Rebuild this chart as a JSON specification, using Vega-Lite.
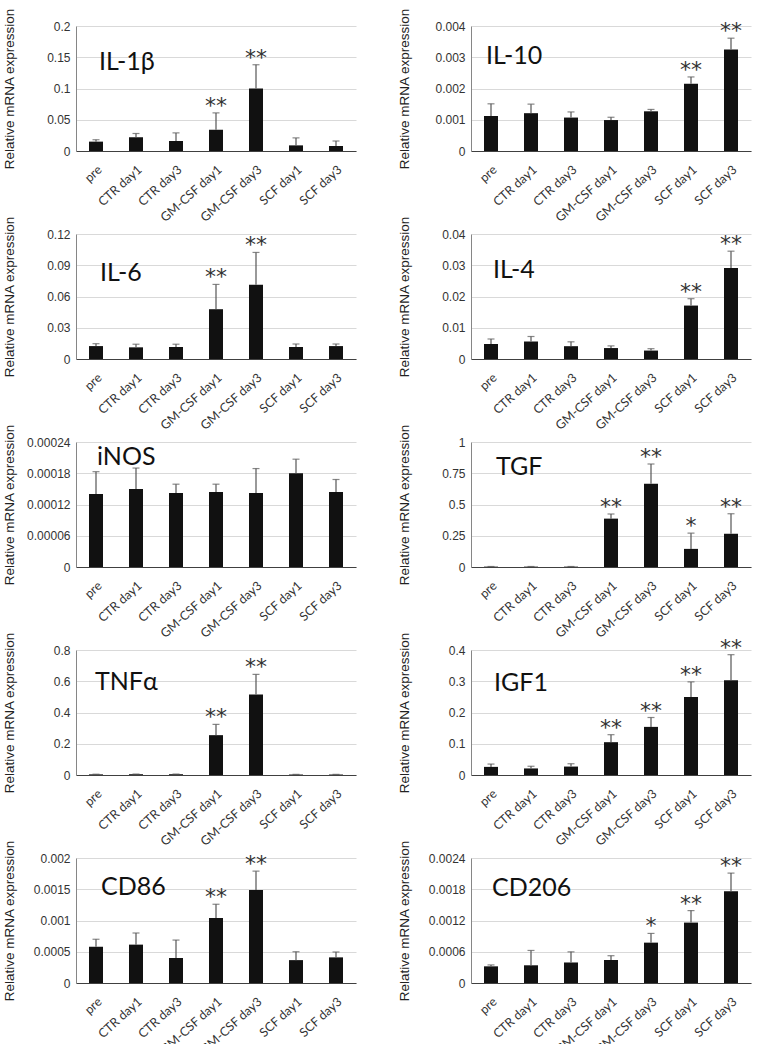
{
"$schema": "https://vega.github.io/schema/vega-lite/v6.json",
"padding": {"left": 2, "top": 7, "right": 5, "bottom": 0},
"background": "white",
"bounds": "flush",
"config": {
  "view": {"stroke": null},
  "axisY": {"grid": true, "gridColor": "#d9d9d9", "domainColor": "#868686", "ticks": false, "labelFont": "Liberation Sans", "labelFontSize": 12, "labelColor": "#333", "labelPadding": 6, "titleFont": "Liberation Sans", "titleFontSize": 13.5, "titleFontWeight": "normal", "titleColor": "#222", "titleX": -60, "titleBaseline": "bottom"},
  "axisX": {"labelAngle": -42, "labelFont": "Lato", "labelFontSize": 12.5, "labelColor": "#333", "ticks": false, "domainColor": "#404040", "grid": false, "labelPadding": 12}
},
"data": {"values": [
{"gene":"IL-1β","group":"pre","val":0.015,"err":0.018,"sig":""},
{"gene":"IL-1β","group":"CTR day1","val":0.022,"err":0.028,"sig":""},
{"gene":"IL-1β","group":"CTR day3","val":0.016,"err":0.029,"sig":""},
{"gene":"IL-1β","group":"GM-CSF day1","val":0.034,"err":0.061,"sig":"**"},
{"gene":"IL-1β","group":"GM-CSF day3","val":0.1,"err":0.138,"sig":"**"},
{"gene":"IL-1β","group":"SCF day1","val":0.009,"err":0.021,"sig":""},
{"gene":"IL-1β","group":"SCF day3","val":0.008,"err":0.016,"sig":""},
{"gene":"IL-10","group":"pre","val":0.00112,"err":0.00151,"sig":""},
{"gene":"IL-10","group":"CTR day1","val":0.00121,"err":0.0015,"sig":""},
{"gene":"IL-10","group":"CTR day3","val":0.00107,"err":0.00125,"sig":""},
{"gene":"IL-10","group":"GM-CSF day1","val":0.00099,"err":0.00108,"sig":""},
{"gene":"IL-10","group":"GM-CSF day3","val":0.00127,"err":0.00133,"sig":""},
{"gene":"IL-10","group":"SCF day1","val":0.00215,"err":0.00237,"sig":"**"},
{"gene":"IL-10","group":"SCF day3","val":0.00325,"err":0.00361,"sig":"**"},
{"gene":"IL-6","group":"pre","val":0.0124,"err":0.0147,"sig":""},
{"gene":"IL-6","group":"CTR day1","val":0.0112,"err":0.0142,"sig":""},
{"gene":"IL-6","group":"CTR day3","val":0.0115,"err":0.0142,"sig":""},
{"gene":"IL-6","group":"GM-CSF day1","val":0.0478,"err":0.0716,"sig":"**"},
{"gene":"IL-6","group":"GM-CSF day3","val":0.0714,"err":0.1023,"sig":"**"},
{"gene":"IL-6","group":"SCF day1","val":0.0115,"err":0.0144,"sig":""},
{"gene":"IL-6","group":"SCF day3","val":0.0124,"err":0.0144,"sig":""},
{"gene":"IL-4","group":"pre","val":0.0048,"err":0.0064,"sig":""},
{"gene":"IL-4","group":"CTR day1","val":0.0056,"err":0.0072,"sig":""},
{"gene":"IL-4","group":"CTR day3","val":0.0041,"err":0.0055,"sig":""},
{"gene":"IL-4","group":"GM-CSF day1","val":0.0035,"err":0.0042,"sig":""},
{"gene":"IL-4","group":"GM-CSF day3","val":0.0027,"err":0.0033,"sig":""},
{"gene":"IL-4","group":"SCF day1","val":0.0171,"err":0.0193,"sig":"**"},
{"gene":"IL-4","group":"SCF day3","val":0.0291,"err":0.0345,"sig":"**"},
{"gene":"iNOS","group":"pre","val":0.00014,"err":0.000183,"sig":""},
{"gene":"iNOS","group":"CTR day1","val":0.00015,"err":0.00019,"sig":""},
{"gene":"iNOS","group":"CTR day3","val":0.000142,"err":0.000159,"sig":""},
{"gene":"iNOS","group":"GM-CSF day1","val":0.000144,"err":0.000159,"sig":""},
{"gene":"iNOS","group":"GM-CSF day3","val":0.000142,"err":0.000189,"sig":""},
{"gene":"iNOS","group":"SCF day1","val":0.00018,"err":0.000207,"sig":""},
{"gene":"iNOS","group":"SCF day3","val":0.000144,"err":0.000168,"sig":""},
{"gene":"TGF","group":"pre","val":0.003,"err":0.004,"sig":""},
{"gene":"TGF","group":"CTR day1","val":0.003,"err":0.004,"sig":""},
{"gene":"TGF","group":"CTR day3","val":0.003,"err":0.004,"sig":""},
{"gene":"TGF","group":"GM-CSF day1","val":0.387,"err":0.424,"sig":"**"},
{"gene":"TGF","group":"GM-CSF day3","val":0.666,"err":0.824,"sig":"**"},
{"gene":"TGF","group":"SCF day1","val":0.145,"err":0.271,"sig":"*"},
{"gene":"TGF","group":"SCF day3","val":0.266,"err":0.426,"sig":"**"},
{"gene":"TNFα","group":"pre","val":0.004,"err":0.005,"sig":""},
{"gene":"TNFα","group":"CTR day1","val":0.005,"err":0.006,"sig":""},
{"gene":"TNFα","group":"CTR day3","val":0.005,"err":0.006,"sig":""},
{"gene":"TNFα","group":"GM-CSF day1","val":0.255,"err":0.324,"sig":"**"},
{"gene":"TNFα","group":"GM-CSF day3","val":0.515,"err":0.644,"sig":"**"},
{"gene":"TNFα","group":"SCF day1","val":0.003,"err":0.004,"sig":""},
{"gene":"TNFα","group":"SCF day3","val":0.003,"err":0.004,"sig":""},
{"gene":"IGF1","group":"pre","val":0.026,"err":0.035,"sig":""},
{"gene":"IGF1","group":"CTR day1","val":0.021,"err":0.028,"sig":""},
{"gene":"IGF1","group":"CTR day3","val":0.027,"err":0.036,"sig":""},
{"gene":"IGF1","group":"GM-CSF day1","val":0.105,"err":0.129,"sig":"**"},
{"gene":"IGF1","group":"GM-CSF day3","val":0.154,"err":0.184,"sig":"**"},
{"gene":"IGF1","group":"SCF day1","val":0.25,"err":0.298,"sig":"**"},
{"gene":"IGF1","group":"SCF day3","val":0.303,"err":0.385,"sig":"**"},
{"gene":"CD86","group":"pre","val":0.00058,"err":0.0007,"sig":""},
{"gene":"CD86","group":"CTR day1","val":0.000614,"err":0.0008,"sig":""},
{"gene":"CD86","group":"CTR day3","val":0.0004,"err":0.000687,"sig":""},
{"gene":"CD86","group":"GM-CSF day1","val":0.00104,"err":0.00126,"sig":"**"},
{"gene":"CD86","group":"GM-CSF day3","val":0.00149,"err":0.00179,"sig":"**"},
{"gene":"CD86","group":"SCF day1","val":0.000366,"err":0.0005,"sig":""},
{"gene":"CD86","group":"SCF day3","val":0.00041,"err":0.000496,"sig":""},
{"gene":"CD206","group":"pre","val":0.00032,"err":0.000347,"sig":""},
{"gene":"CD206","group":"CTR day1","val":0.00034,"err":0.000625,"sig":""},
{"gene":"CD206","group":"CTR day3","val":0.000394,"err":0.000598,"sig":""},
{"gene":"CD206","group":"GM-CSF day1","val":0.000442,"err":0.000524,"sig":""},
{"gene":"CD206","group":"GM-CSF day3","val":0.000775,"err":0.000952,"sig":"*"},
{"gene":"CD206","group":"SCF day1","val":0.00116,"err":0.00139,"sig":"**"},
{"gene":"CD206","group":"SCF day3","val":0.00176,"err":0.00211,"sig":"**"}
]},
"columns": 2,
"spacing": {"row": 83, "column": 115},
"concat": [
{"width": 280, "height": 125,
 "transform": [{"filter": "datum.gene === 'IL-1β'"}],
 "resolve": {"axis": {"y": "independent"}},
 "encoding": {"x": {"field": "group", "type": "nominal", "sort": ["pre","CTR day1","CTR day3","GM-CSF day1","GM-CSF day3","SCF day1","SCF day3"], "scale": {"paddingInner": 0.65, "paddingOuter": 0.325}, "axis": {"title": null}},
   "y": {"field": "val", "type": "quantitative", "scale": {"domain": [0, 0.2]}, "axis": null}},
 "layer": [
  {"mark": {"type": "bar", "color": "#111"}, "encoding": {"y": {"field": "val", "type": "quantitative", "scale": {"domain": [0, 0.2]}, "axis": {"values": [0,0.05,0.1,0.15,0.2], "format": ".5~f", "title": "Relative mRNA expression"}}}},
  {"mark": {"type": "rule", "color": "#555", "strokeWidth": 1.2}, "encoding": {"y2": {"field": "err"}}},
  {"mark": {"type": "tick", "color": "#555", "thickness": 1.2, "size": 7, "orient": "horizontal"}, "encoding": {"y": {"field": "err", "type": "quantitative", "scale": {"domain": [0, 0.2]}, "axis": null}}},
  {"transform": [{"filter": "datum.sig !== ''"}], "mark": {"type": "text", "font": "DejaVu Sans", "fontSize": 22, "baseline": "alphabetic", "color": "#333"}, "encoding": {"y": {"field": "err", "type": "quantitative", "scale": {"domain": [0, 0.2]}, "axis": null}, "text": {"field": "sig"}}},
  {"transform": [{"filter": "datum.group === 'pre'"}], "mark": {"type": "text", "font": "Lato", "fontSize": 25, "align": "left", "baseline": "middle", "dx": 3, "color": "#111"}, "encoding": {"y": {"datum": 0.142, "type": "quantitative", "scale": {"domain": [0, 0.2]}, "axis": null}, "text": {"field": "gene"}}}
 ]},
{"width": 280, "height": 125,
 "transform": [{"filter": "datum.gene === 'IL-10'"}],
 "resolve": {"axis": {"y": "independent"}},
 "encoding": {"x": {"field": "group", "type": "nominal", "sort": ["pre","CTR day1","CTR day3","GM-CSF day1","GM-CSF day3","SCF day1","SCF day3"], "scale": {"paddingInner": 0.65, "paddingOuter": 0.325}, "axis": {"title": null}},
   "y": {"field": "val", "type": "quantitative", "scale": {"domain": [0, 0.004]}, "axis": null}},
 "layer": [
  {"mark": {"type": "bar", "color": "#111"}, "encoding": {"y": {"field": "val", "type": "quantitative", "scale": {"domain": [0, 0.004]}, "axis": {"values": [0,0.001,0.002,0.003,0.004], "format": ".5~f", "title": "Relative mRNA expression"}}}},
  {"mark": {"type": "rule", "color": "#555", "strokeWidth": 1.2}, "encoding": {"y2": {"field": "err"}}},
  {"mark": {"type": "tick", "color": "#555", "thickness": 1.2, "size": 7, "orient": "horizontal"}, "encoding": {"y": {"field": "err", "type": "quantitative", "scale": {"domain": [0, 0.004]}, "axis": null}}},
  {"transform": [{"filter": "datum.sig !== ''"}], "mark": {"type": "text", "font": "DejaVu Sans", "fontSize": 22, "baseline": "alphabetic", "color": "#333"}, "encoding": {"y": {"field": "err", "type": "quantitative", "scale": {"domain": [0, 0.004]}, "axis": null}, "text": {"field": "sig"}}},
  {"transform": [{"filter": "datum.group === 'pre'"}], "mark": {"type": "text", "font": "Lato", "fontSize": 25, "align": "left", "baseline": "middle", "dx": -5, "color": "#111"}, "encoding": {"y": {"datum": 0.00304, "type": "quantitative", "scale": {"domain": [0, 0.004]}, "axis": null}, "text": {"field": "gene"}}}
 ]},
{"width": 280, "height": 125,
 "transform": [{"filter": "datum.gene === 'IL-6'"}],
 "resolve": {"axis": {"y": "independent"}},
 "encoding": {"x": {"field": "group", "type": "nominal", "sort": ["pre","CTR day1","CTR day3","GM-CSF day1","GM-CSF day3","SCF day1","SCF day3"], "scale": {"paddingInner": 0.65, "paddingOuter": 0.325}, "axis": {"title": null}},
   "y": {"field": "val", "type": "quantitative", "scale": {"domain": [0, 0.12]}, "axis": null}},
 "layer": [
  {"mark": {"type": "bar", "color": "#111"}, "encoding": {"y": {"field": "val", "type": "quantitative", "scale": {"domain": [0, 0.12]}, "axis": {"values": [0,0.03,0.06,0.09,0.12], "format": ".5~f", "title": "Relative mRNA expression"}}}},
  {"mark": {"type": "rule", "color": "#555", "strokeWidth": 1.2}, "encoding": {"y2": {"field": "err"}}},
  {"mark": {"type": "tick", "color": "#555", "thickness": 1.2, "size": 7, "orient": "horizontal"}, "encoding": {"y": {"field": "err", "type": "quantitative", "scale": {"domain": [0, 0.12]}, "axis": null}}},
  {"transform": [{"filter": "datum.sig !== ''"}], "mark": {"type": "text", "font": "DejaVu Sans", "fontSize": 22, "baseline": "alphabetic", "color": "#333"}, "encoding": {"y": {"field": "err", "type": "quantitative", "scale": {"domain": [0, 0.12]}, "axis": null}, "text": {"field": "sig"}}},
  {"transform": [{"filter": "datum.group === 'pre'"}], "mark": {"type": "text", "font": "Lato", "fontSize": 25, "align": "left", "baseline": "middle", "dx": 4, "color": "#111"}, "encoding": {"y": {"datum": 0.083, "type": "quantitative", "scale": {"domain": [0, 0.12]}, "axis": null}, "text": {"field": "gene"}}}
 ]},
{"width": 280, "height": 125,
 "transform": [{"filter": "datum.gene === 'IL-4'"}],
 "resolve": {"axis": {"y": "independent"}},
 "encoding": {"x": {"field": "group", "type": "nominal", "sort": ["pre","CTR day1","CTR day3","GM-CSF day1","GM-CSF day3","SCF day1","SCF day3"], "scale": {"paddingInner": 0.65, "paddingOuter": 0.325}, "axis": {"title": null}},
   "y": {"field": "val", "type": "quantitative", "scale": {"domain": [0, 0.04]}, "axis": null}},
 "layer": [
  {"mark": {"type": "bar", "color": "#111"}, "encoding": {"y": {"field": "val", "type": "quantitative", "scale": {"domain": [0, 0.04]}, "axis": {"values": [0,0.01,0.02,0.03,0.04], "format": ".5~f", "title": "Relative mRNA expression"}}}},
  {"mark": {"type": "rule", "color": "#555", "strokeWidth": 1.2}, "encoding": {"y2": {"field": "err"}}},
  {"mark": {"type": "tick", "color": "#555", "thickness": 1.2, "size": 7, "orient": "horizontal"}, "encoding": {"y": {"field": "err", "type": "quantitative", "scale": {"domain": [0, 0.04]}, "axis": null}}},
  {"transform": [{"filter": "datum.sig !== ''"}], "mark": {"type": "text", "font": "DejaVu Sans", "fontSize": 22, "baseline": "alphabetic", "color": "#333"}, "encoding": {"y": {"field": "err", "type": "quantitative", "scale": {"domain": [0, 0.04]}, "axis": null}, "text": {"field": "sig"}}},
  {"transform": [{"filter": "datum.group === 'pre'"}], "mark": {"type": "text", "font": "Lato", "fontSize": 25, "align": "left", "baseline": "middle", "dx": 2, "color": "#111"}, "encoding": {"y": {"datum": 0.0284, "type": "quantitative", "scale": {"domain": [0, 0.04]}, "axis": null}, "text": {"field": "gene"}}}
 ]},
{"width": 280, "height": 125,
 "transform": [{"filter": "datum.gene === 'iNOS'"}],
 "resolve": {"axis": {"y": "independent"}},
 "encoding": {"x": {"field": "group", "type": "nominal", "sort": ["pre","CTR day1","CTR day3","GM-CSF day1","GM-CSF day3","SCF day1","SCF day3"], "scale": {"paddingInner": 0.65, "paddingOuter": 0.325}, "axis": {"title": null}},
   "y": {"field": "val", "type": "quantitative", "scale": {"domain": [0, 0.00024]}, "axis": null}},
 "layer": [
  {"mark": {"type": "bar", "color": "#111"}, "encoding": {"y": {"field": "val", "type": "quantitative", "scale": {"domain": [0, 0.00024]}, "axis": {"values": [0,0.00006,0.00012,0.00018,0.00024], "format": ".5~f", "title": "Relative mRNA expression"}}}},
  {"mark": {"type": "rule", "color": "#555", "strokeWidth": 1.2}, "encoding": {"y2": {"field": "err"}}},
  {"mark": {"type": "tick", "color": "#555", "thickness": 1.2, "size": 7, "orient": "horizontal"}, "encoding": {"y": {"field": "err", "type": "quantitative", "scale": {"domain": [0, 0.00024]}, "axis": null}}},
  {"transform": [{"filter": "datum.group === 'pre'"}], "mark": {"type": "text", "font": "Lato", "fontSize": 25, "align": "left", "baseline": "middle", "dx": 1, "color": "#111"}, "encoding": {"y": {"datum": 0.000212, "type": "quantitative", "scale": {"domain": [0, 0.00024]}, "axis": null}, "text": {"field": "gene"}}}
 ]},
{"width": 280, "height": 125,
 "transform": [{"filter": "datum.gene === 'TGF'"}],
 "resolve": {"axis": {"y": "independent"}},
 "encoding": {"x": {"field": "group", "type": "nominal", "sort": ["pre","CTR day1","CTR day3","GM-CSF day1","GM-CSF day3","SCF day1","SCF day3"], "scale": {"paddingInner": 0.65, "paddingOuter": 0.325}, "axis": {"title": null}},
   "y": {"field": "val", "type": "quantitative", "scale": {"domain": [0, 1]}, "axis": null}},
 "layer": [
  {"mark": {"type": "bar", "color": "#111"}, "encoding": {"y": {"field": "val", "type": "quantitative", "scale": {"domain": [0, 1]}, "axis": {"values": [0,0.25,0.5,0.75,1], "format": ".5~f", "title": "Relative mRNA expression"}}}},
  {"mark": {"type": "rule", "color": "#555", "strokeWidth": 1.2}, "encoding": {"y2": {"field": "err"}}},
  {"mark": {"type": "tick", "color": "#555", "thickness": 1.2, "size": 7, "orient": "horizontal"}, "encoding": {"y": {"field": "err", "type": "quantitative", "scale": {"domain": [0, 1]}, "axis": null}}},
  {"transform": [{"filter": "datum.sig !== ''"}], "mark": {"type": "text", "font": "DejaVu Sans", "fontSize": 22, "baseline": "alphabetic", "color": "#333"}, "encoding": {"y": {"field": "err", "type": "quantitative", "scale": {"domain": [0, 1]}, "axis": null}, "text": {"field": "sig"}}},
  {"transform": [{"filter": "datum.group === 'pre'"}], "mark": {"type": "text", "font": "Lato", "fontSize": 25, "align": "left", "baseline": "middle", "dx": 5, "color": "#111"}, "encoding": {"y": {"datum": 0.803, "type": "quantitative", "scale": {"domain": [0, 1]}, "axis": null}, "text": {"field": "gene"}}}
 ]},
{"width": 280, "height": 125,
 "transform": [{"filter": "datum.gene === 'TNFα'"}],
 "resolve": {"axis": {"y": "independent"}},
 "encoding": {"x": {"field": "group", "type": "nominal", "sort": ["pre","CTR day1","CTR day3","GM-CSF day1","GM-CSF day3","SCF day1","SCF day3"], "scale": {"paddingInner": 0.65, "paddingOuter": 0.325}, "axis": {"title": null}},
   "y": {"field": "val", "type": "quantitative", "scale": {"domain": [0, 0.8]}, "axis": null}},
 "layer": [
  {"mark": {"type": "bar", "color": "#111"}, "encoding": {"y": {"field": "val", "type": "quantitative", "scale": {"domain": [0, 0.8]}, "axis": {"values": [0,0.2,0.4,0.6,0.8], "format": ".5~f", "title": "Relative mRNA expression"}}}},
  {"mark": {"type": "rule", "color": "#555", "strokeWidth": 1.2}, "encoding": {"y2": {"field": "err"}}},
  {"mark": {"type": "tick", "color": "#555", "thickness": 1.2, "size": 7, "orient": "horizontal"}, "encoding": {"y": {"field": "err", "type": "quantitative", "scale": {"domain": [0, 0.8]}, "axis": null}}},
  {"transform": [{"filter": "datum.sig !== ''"}], "mark": {"type": "text", "font": "DejaVu Sans", "fontSize": 22, "baseline": "alphabetic", "color": "#333"}, "encoding": {"y": {"field": "err", "type": "quantitative", "scale": {"domain": [0, 0.8]}, "axis": null}, "text": {"field": "sig"}}},
  {"transform": [{"filter": "datum.group === 'pre'"}], "mark": {"type": "text", "font": "Lato", "fontSize": 25, "align": "left", "baseline": "middle", "dx": -1, "color": "#111"}, "encoding": {"y": {"datum": 0.598, "type": "quantitative", "scale": {"domain": [0, 0.8]}, "axis": null}, "text": {"field": "gene"}}}
 ]},
{"width": 280, "height": 125,
 "transform": [{"filter": "datum.gene === 'IGF1'"}],
 "resolve": {"axis": {"y": "independent"}},
 "encoding": {"x": {"field": "group", "type": "nominal", "sort": ["pre","CTR day1","CTR day3","GM-CSF day1","GM-CSF day3","SCF day1","SCF day3"], "scale": {"paddingInner": 0.65, "paddingOuter": 0.325}, "axis": {"title": null}},
   "y": {"field": "val", "type": "quantitative", "scale": {"domain": [0, 0.4]}, "axis": null}},
 "layer": [
  {"mark": {"type": "bar", "color": "#111"}, "encoding": {"y": {"field": "val", "type": "quantitative", "scale": {"domain": [0, 0.4]}, "axis": {"values": [0,0.1,0.2,0.3,0.4], "format": ".5~f", "title": "Relative mRNA expression"}}}},
  {"mark": {"type": "rule", "color": "#555", "strokeWidth": 1.2}, "encoding": {"y2": {"field": "err"}}},
  {"mark": {"type": "tick", "color": "#555", "thickness": 1.2, "size": 7, "orient": "horizontal"}, "encoding": {"y": {"field": "err", "type": "quantitative", "scale": {"domain": [0, 0.4]}, "axis": null}}},
  {"transform": [{"filter": "datum.sig !== ''"}], "mark": {"type": "text", "font": "DejaVu Sans", "fontSize": 22, "baseline": "alphabetic", "color": "#333"}, "encoding": {"y": {"field": "err", "type": "quantitative", "scale": {"domain": [0, 0.4]}, "axis": null}, "text": {"field": "sig"}}},
  {"transform": [{"filter": "datum.group === 'pre'"}], "mark": {"type": "text", "font": "Lato", "fontSize": 25, "align": "left", "baseline": "middle", "dx": 3, "color": "#111"}, "encoding": {"y": {"datum": 0.293, "type": "quantitative", "scale": {"domain": [0, 0.4]}, "axis": null}, "text": {"field": "gene"}}}
 ]},
{"width": 280, "height": 125,
 "transform": [{"filter": "datum.gene === 'CD86'"}],
 "resolve": {"axis": {"y": "independent"}},
 "encoding": {"x": {"field": "group", "type": "nominal", "sort": ["pre","CTR day1","CTR day3","GM-CSF day1","GM-CSF day3","SCF day1","SCF day3"], "scale": {"paddingInner": 0.65, "paddingOuter": 0.325}, "axis": {"title": null}},
   "y": {"field": "val", "type": "quantitative", "scale": {"domain": [0, 0.002]}, "axis": null}},
 "layer": [
  {"mark": {"type": "bar", "color": "#111"}, "encoding": {"y": {"field": "val", "type": "quantitative", "scale": {"domain": [0, 0.002]}, "axis": {"values": [0,0.0005,0.001,0.0015,0.002], "format": ".5~f", "title": "Relative mRNA expression"}}}},
  {"mark": {"type": "rule", "color": "#555", "strokeWidth": 1.2}, "encoding": {"y2": {"field": "err"}}},
  {"mark": {"type": "tick", "color": "#555", "thickness": 1.2, "size": 7, "orient": "horizontal"}, "encoding": {"y": {"field": "err", "type": "quantitative", "scale": {"domain": [0, 0.002]}, "axis": null}}},
  {"transform": [{"filter": "datum.sig !== ''"}], "mark": {"type": "text", "font": "DejaVu Sans", "fontSize": 22, "baseline": "alphabetic", "color": "#333"}, "encoding": {"y": {"field": "err", "type": "quantitative", "scale": {"domain": [0, 0.002]}, "axis": null}, "text": {"field": "sig"}}},
  {"transform": [{"filter": "datum.group === 'pre'"}], "mark": {"type": "text", "font": "Lato", "fontSize": 25, "align": "left", "baseline": "middle", "dx": 5, "color": "#111"}, "encoding": {"y": {"datum": 0.00153, "type": "quantitative", "scale": {"domain": [0, 0.002]}, "axis": null}, "text": {"field": "gene"}}}
 ]},
{"width": 280, "height": 125,
 "transform": [{"filter": "datum.gene === 'CD206'"}],
 "resolve": {"axis": {"y": "independent"}},
 "encoding": {"x": {"field": "group", "type": "nominal", "sort": ["pre","CTR day1","CTR day3","GM-CSF day1","GM-CSF day3","SCF day1","SCF day3"], "scale": {"paddingInner": 0.65, "paddingOuter": 0.325}, "axis": {"title": null}},
   "y": {"field": "val", "type": "quantitative", "scale": {"domain": [0, 0.0024]}, "axis": null}},
 "layer": [
  {"mark": {"type": "bar", "color": "#111"}, "encoding": {"y": {"field": "val", "type": "quantitative", "scale": {"domain": [0, 0.0024]}, "axis": {"values": [0,0.0006,0.0012,0.0018,0.0024], "format": ".5~f", "title": "Relative mRNA expression"}}}},
  {"mark": {"type": "rule", "color": "#555", "strokeWidth": 1.2}, "encoding": {"y2": {"field": "err"}}},
  {"mark": {"type": "tick", "color": "#555", "thickness": 1.2, "size": 7, "orient": "horizontal"}, "encoding": {"y": {"field": "err", "type": "quantitative", "scale": {"domain": [0, 0.0024]}, "axis": null}}},
  {"transform": [{"filter": "datum.sig !== ''"}], "mark": {"type": "text", "font": "DejaVu Sans", "fontSize": 22, "baseline": "alphabetic", "color": "#333"}, "encoding": {"y": {"field": "err", "type": "quantitative", "scale": {"domain": [0, 0.0024]}, "axis": null}, "text": {"field": "sig"}}},
  {"transform": [{"filter": "datum.group === 'pre'"}], "mark": {"type": "text", "font": "Lato", "fontSize": 25, "align": "left", "baseline": "middle", "dx": 1, "color": "#111"}, "encoding": {"y": {"datum": 0.00183, "type": "quantitative", "scale": {"domain": [0, 0.0024]}, "axis": null}, "text": {"field": "gene"}}}
 ]}
]
}
